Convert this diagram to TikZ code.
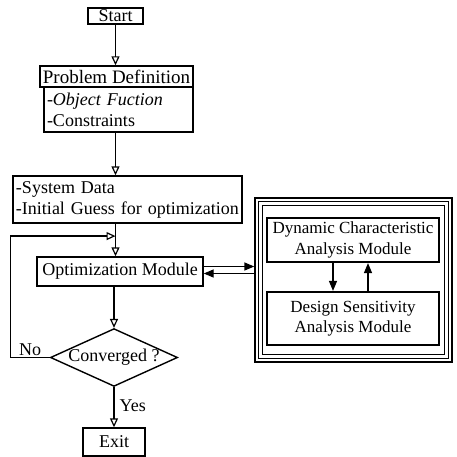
\documentclass[tikz,border=0pt]{standalone}
\usepackage{fontspec}
\setmainfont{Liberation Serif}
\usetikzlibrary{arrows.meta,shapes.geometric,calc}
\newcommand\myfs{\fontsize{18pt}{21pt}\selectfont}
\newcommand\mypfs{\fontsize{17pt}{20.5pt}\selectfont}
\begin{document}
\begin{tikzpicture}[x=1pt,y=-1pt,
 every node/.style={font=\myfs},
 box/.style={draw, line width=1.4pt, inner sep=0pt, align=center},
 lbox/.style={draw, line width=1.4pt, inner ysep=0pt, inner xsep=3pt, align=left},
 tbox/.style={draw, line width=2.2pt, inner sep=0pt, align=center, font=\mypfs},
 arr/.style={line width=1.4pt, -{Triangle[open,length=9pt,width=8pt,line width=1.2pt]}},
 farr/.style={line width=1.4pt, -{Triangle[length=10pt,width=8pt]}}]
\fill[white] (0,0) rectangle (457,457);
\useasboundingbox (0,0) rectangle (457,457);

\node[box, minimum width=55pt, minimum height=16pt] (start) at (115.5,16) {Start};
\node[box, minimum width=153pt, minimum height=21pt, font=\fontsize{19pt}{21pt}\selectfont] (pdh) at (116.5,76.5) {Problem Definition};
\node[lbox, text width=143pt, minimum height=45pt] (pdb) at (118.5,109.5) {-\textit{Object Fuction}\\-Constraints};
\node[lbox, text width=223pt, minimum height=47pt] (sys) at (127.5,199.5) {-System Data\\-Initial Guess for optimization};
\node[box, minimum width=166pt, minimum height=29pt] (opt) at (120,271.5) {Optimization Module};
\node[draw, diamond, aspect=2.2, inner sep=0pt, line width=1.4pt, minimum width=122pt, minimum height=55pt] (dia) at (114,357.5) {Converged ?};
\node[box, minimum width=62pt, minimum height=28pt] (exit) at (114,442) {Exit};

\node[draw, line width=1.4pt, minimum width=197pt, minimum height=164pt, inner sep=0pt] (panel) at (353.5,280) {};
\draw[line width=1.4pt] ([shift={(4,4)}]panel.north west) rectangle ([shift={(-4,-4)}]panel.south east);
\draw[line width=1.4pt] ([shift={(8,8)}]panel.north west) rectangle ([shift={(-8,-8)}]panel.south east);
\node[tbox, minimum width=172pt, minimum height=44pt] (dyn) at (353,240) {Dynamic Characteristic\\Analysis Module};
\node[tbox, minimum width=172pt, minimum height=53pt] (des) at (353,318.5) {Design Sensitivity\\Analysis Module};

\draw[farr] ($(dyn.south)+(-20,0)$) -- ($(des.north)+(-20,0)$);
\draw[farr] ($(des.north)+(15,0)$) -- ($(dyn.south)+(15,0)$);

\coordinate (o1) at ([yshift=5pt]opt.east);
\coordinate (o2) at ([yshift=-2pt]opt.east);
\draw[farr] (o1) -- (o1 -| panel.west);
\draw[farr] (o2 -| panel.west) -- (o2);

\draw[arr] (start.south) -- (start.south |- pdh.north);
\draw[arr] (pdb.south -| start) -- (sys.north -| start);
\coordinate (jn) at ($(sys.south -| start)!0.38!(opt.north -| start)$);
\draw[arr] (sys.south -| start) -- (opt.north -| start);
\draw[arr] (opt.south -| dia) -- (dia.north);
\draw[arr] (dia.south) -- node[right, pos=0.45, inner sep=5pt]{Yes} (exit.north);
\draw[arr] (dia.west) -- node[above, inner sep=1pt]{No} ++(-39,0) |- (jn);
\end{tikzpicture}
\end{document}
